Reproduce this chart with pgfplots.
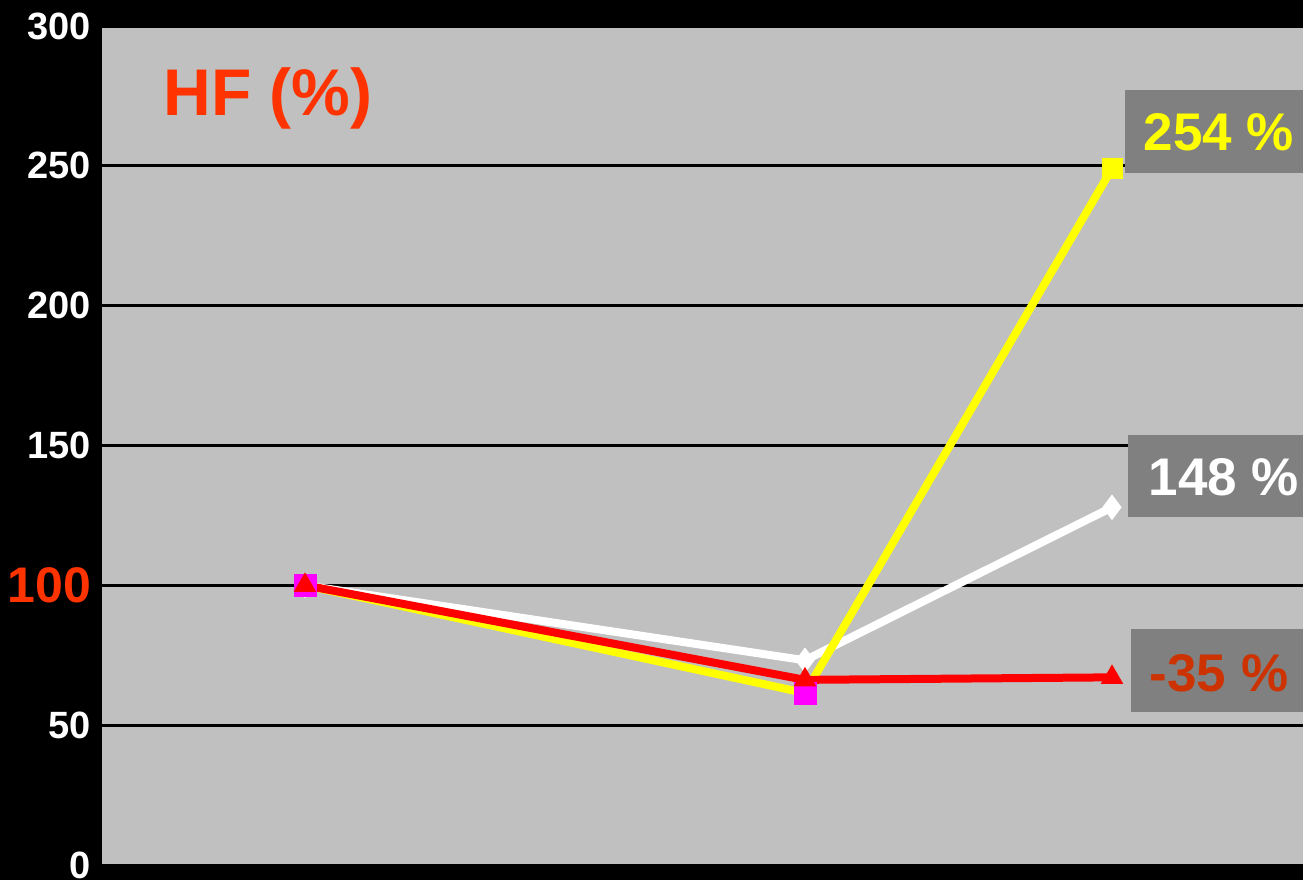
\documentclass[border=0pt]{standalone}
\usepackage{pgfplots}
\pgfplotsset{compat=1.18}
\usepackage{fontspec}
\setmainfont{Liberation Sans}
\definecolor{plotgray}{HTML}{C0C0C0}
\definecolor{boxgray}{HTML}{808080}
\definecolor{hfred}{HTML}{FF3300}
\definecolor{darkred}{HTML}{CC3300}
\definecolor{myyellow}{HTML}{FFFF00}
\definecolor{mymag}{HTML}{FF00FF}
\begin{document}
\begin{tikzpicture}[x=0.5pt,y=0.5pt]
\fill[black] (0,0) rectangle (1303,880);
\useasboundingbox (0,0) rectangle (1303,880);
\begin{axis}[
  at={(51pt,7.5pt)}, anchor=origin,
  scale only axis, width=600.5pt, height=419.5pt,
  xmin=0, xmax=1201, ymin=0, ymax=300,
  axis background/.style={fill=plotgray},
  axis line style={draw=none},
  xtick=\empty,
  ytick={0,50,100,150,200,250,300},
  yticklabels={0,50,{\fontsize{25}{25}\selectfont\color{hfred}100},150,200,250,300},
  yticklabel style={font=\fontsize{19}{19}\selectfont\bfseries, text=white, xshift=-2pt},
  major tick length=0pt,
  ymajorgrids, grid style={black, line width=1.5pt},
  clip=false,
]
% label boxes
\fill[boxgray] (axis cs:1023,247.5) rectangle (axis cs:1201,277);
\fill[boxgray] (axis cs:1026,124.3) rectangle (axis cs:1201,153.6);
\fill[boxgray] (axis cs:1029,54.6) rectangle (axis cs:1201,84.3);
% white series
\addplot[white, line width=4pt, mark=diamond*, mark size=6pt, mark options={fill=white, draw=white, line width=0.5pt}] coordinates {(203,100) (703,73.2) (1010,127.9)};
% yellow series
\addplot[myyellow, line width=4pt, mark=square*, mark size=5pt, mark options={fill=myyellow, draw=myyellow, line width=0.5pt}] coordinates {(203,100) (703,61.5) (1010,249)};
% magenta series (markers)
\addplot[draw=none, mark=square*, mark size=5.5pt, mark options={fill=mymag, draw=mymag}] coordinates {(203,100) (703,61.5)};
% red series
\addplot[red, line width=4pt, mark=triangle*, mark size=6pt, mark options={fill=red, draw=red, line width=0.5pt}] coordinates {(203,100) (703,66.2) (1010,67.1)};
% texts
\node[text=hfred, font=\fontsize{33}{33}\selectfont\bfseries] at (axis cs:166,274) {HF (\%)};
\node[text=myyellow, font=\fontsize{26.5}{26.5}\selectfont\bfseries] at (axis cs:1117,262) {254 \%};
\node[text=white, font=\fontsize{26.5}{26.5}\selectfont\bfseries] at (axis cs:1122,138.5) {148 \%};
\node[text=darkred, font=\fontsize{26.5}{26.5}\selectfont\bfseries] at (axis cs:1117,68.6) {-35 \%};
\end{axis}
\end{tikzpicture}
\end{document}
